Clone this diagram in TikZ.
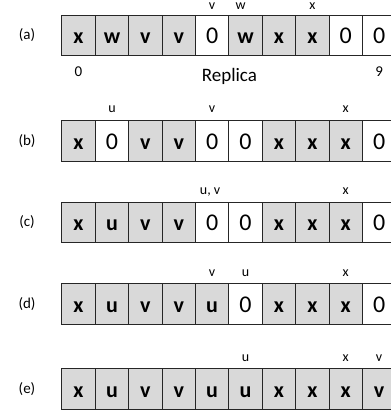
\documentclass[tikz,border=0pt]{standalone}
\usepackage{fontspec}
\setmainfont{Carlito}
\usetikzlibrary{positioning}
\definecolor{cellgray}{HTML}{D9D9D9}
\definecolor{edge}{HTML}{262626}

\begin{document}
\begin{tikzpicture}[x=1pt, y=1pt,
  cell/.style={draw=edge, line width=1.1pt, anchor=north west, inner sep=0pt,
               minimum width=33.4pt, minimum height=40.5pt,
               text height=17pt, text depth=0pt},
  busy/.style={cell, fill=cellgray, font=\fontsize{22}{22}\selectfont\bfseries},
  free/.style={cell, fill=white, font=\fontsize{24}{24}\selectfont},
  tag/.style={font=\fontsize{14}{14}\selectfont, inner sep=0pt, anchor=base},
  rowlabel/.style={font=\fontsize{15}{15}\selectfont, inner sep=0pt}
]
  \clip (0,0) rectangle (391,-410);
  % the five states of the replica
  \foreach \s/\c [count=\i from 0] in {busy/x,busy/w,busy/v,busy/v,free/0,busy/w,busy/x,busy/x,free/0,free/0}
    \node[\s] (a\i) at (61.3+33.4*\i,-14.5) {\c};
  \foreach \s/\c [count=\i from 0] in {busy/x,free/0,busy/v,busy/v,free/0,free/0,busy/x,busy/x,busy/x,free/0}
    \node[\s] (b\i) at (61.3+33.4*\i,-120) {\c};
  \foreach \s/\c [count=\i from 0] in {busy/x,busy/u,busy/v,busy/v,free/0,free/0,busy/x,busy/x,busy/x,free/0}
    \node[\s] (c\i) at (61.3+33.4*\i,-201.5) {\c};
  \foreach \s/\c [count=\i from 0] in {busy/x,busy/u,busy/v,busy/v,busy/u,free/0,busy/x,busy/x,busy/x,free/0}
    \node[\s] (d\i) at (61.3+33.4*\i,-283) {\c};
  \foreach \s/\c [count=\i from 0] in {busy/x,busy/u,busy/v,busy/v,busy/u,busy/u,busy/x,busy/x,busy/x,busy/v}
    \node[\s] (e\i) at (61.3+33.4*\i,-368) {\c};

  % row labels
  \node[rowlabel] (la) at ([xshift=-34.3pt]a0.west) {(a)};
  \node[rowlabel] (lb) at ([xshift=-34.3pt]b0.west) {(b)};
  \node[rowlabel] (lc) at ([xshift=-34.3pt]c0.west) {(c)};
  \node[rowlabel] (ld) at ([xshift=-34.3pt]d0.west) {(d)};
  \node[rowlabel] (le) at ([xshift=-34.3pt]e0.west) {(e)};

  % pointers above the cells
  \node[tag] (ta4) at ([yshift=5pt]a4.north) {v};
  \node[tag] (ta5) at ([xshift=-5pt,yshift=5pt]a5.north) {w};
  \node[tag] (ta7) at ([yshift=5pt]a7.north) {x};
  \node[tag] (tb1) at ([yshift=8pt]b1.north) {u};
  \node[tag] (tb4) at ([yshift=8pt]b4.north) {v};
  \node[tag] (tb8) at ([yshift=8pt]b8.north) {x};
  \node[tag] (tc4) at ([xshift=-2pt,yshift=7pt]c4.north) {u, v};
  \node[tag] (tc8) at ([yshift=7pt]c8.north) {x};
  \node[tag] (td4) at ([yshift=6.5pt]d4.north) {v};
  \node[tag] (td5) at ([yshift=6.5pt]d5.north) {u};
  \node[tag] (td8) at ([yshift=6.5pt]d8.north) {x};
  \node[tag] (te5) at ([yshift=6.5pt]e5.north) {u};
  \node[tag] (te8) at ([yshift=6.5pt]e8.north) {x};
  \node[tag] (te9) at ([yshift=6.5pt]e9.north) {v};

  % indices and caption under (a)
  \node[tag, font=\fontsize{15}{15}\selectfont] (first) at ([yshift=-20pt]a0.south) {0};
  \node[tag, font=\fontsize{15}{15}\selectfont] (last) at ([yshift=-20pt]a9.south) {9};
  \node[tag, font=\fontsize{19}{19}\selectfont] (replica) at ([yshift=-25pt]a4.south east) {Replica};
\end{tikzpicture}
\end{document}
